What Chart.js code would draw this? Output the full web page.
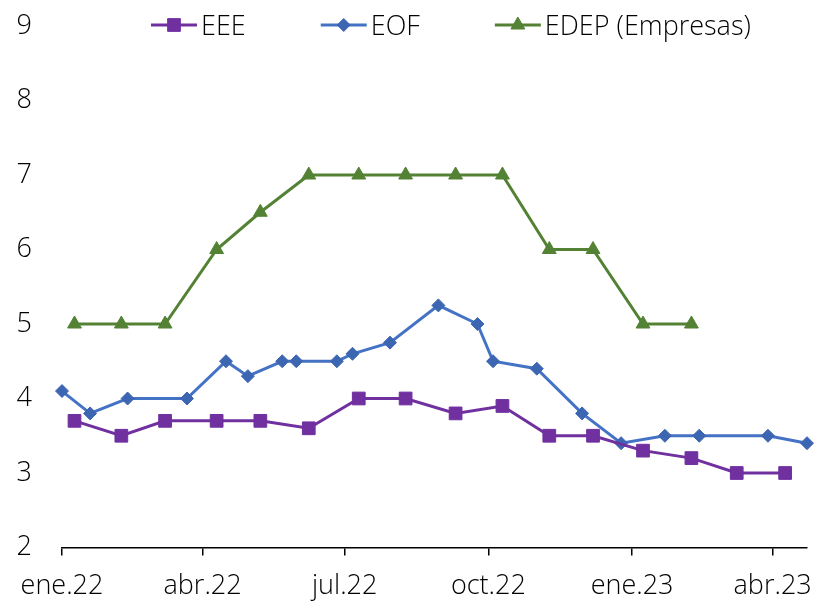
<!DOCTYPE html>
<html><head><meta charset="utf-8">
<script src="https://cdn.jsdelivr.net/npm/chart.js@4/dist/chart.umd.min.js"></script>
<style>html,body{margin:0;padding:0;background:#fff}</style>
</head><body>
<canvas id="c" width="817" height="601"></canvas>
<script>
// x positions are days since 1 Jan 2022
const tickDays   = [0, 90, 181, 273, 365, 455];
const tickLabels = ['ene.22', 'abr.22', 'jul.22', 'oct.22', 'ene.23', 'abr.23'];

const eeeDays   = [8, 38, 66, 99, 127, 158, 190, 220, 252, 282, 312, 340, 372, 403, 432, 463];
const eeeValues = [3.7, 3.5, 3.7, 3.7, 3.7, 3.6, 4.0, 4.0, 3.8, 3.9, 3.5, 3.5, 3.3, 3.2, 3.0, 3.0];

const eofDays   = [0, 18, 42, 80, 105, 119, 141, 150, 176, 186, 210, 241, 266, 276, 304, 333, 358, 386, 408, 452, 477];
const eofValues = [4.1, 3.8, 4.0, 4.0, 4.5, 4.3, 4.5, 4.5, 4.5, 4.6, 4.75, 5.25, 5.0, 4.5, 4.4, 3.8, 3.4, 3.5, 3.5, 3.5, 3.4];

const edepDays   = [8, 38, 66, 99, 127, 158, 190, 220, 252, 282, 312, 340, 372, 403];
const edepValues = [5, 5, 5, 6, 6.5, 7, 7, 7, 7, 7, 6, 6, 5, 5];

const seriesNames = ['EEE', 'EOF', 'EDEP (Empresas)'];

const FONT_FAMILY = '"Open Sans", "DejaVu Sans", sans-serif';
const FONT_SIZE = 27;
const FONT_WEIGHT = 300;

function pts(days, vals) { return days.map((d, i) => ({x: d, y: vals[i]})); }

function drawMarker(ctx, style, x, y, r, fill) {
  ctx.save();
  ctx.fillStyle = fill; ctx.strokeStyle = fill; ctx.lineWidth = 1;
  ctx.beginPath();
  if (style === 'rect') {
    const s = r * Math.SQRT1_2;
    ctx.rect(x - s, y - s, 2 * s, 2 * s);
  } else if (style === 'rectRot') {
    ctx.moveTo(x, y - r); ctx.lineTo(x + r, y); ctx.lineTo(x, y + r); ctx.lineTo(x - r, y);
  } else {
    const a = 2 * Math.PI / 3;
    ctx.moveTo(x, y - r);
    ctx.lineTo(x + Math.sin(a) * r, y - Math.cos(a) * r);
    ctx.lineTo(x + Math.sin(2 * a) * r, y - Math.cos(2 * a) * r);
  }
  ctx.closePath(); ctx.fill(); ctx.stroke();
  ctx.restore();
}

const legendPlugin = {
  id: 'xlLegend',
  afterDraw(chart) {
    const ctx = chart.ctx;
    ctx.save();
    ctx.font = `${FONT_WEIGHT} ${FONT_SIZE}px ${FONT_FAMILY}`;
    ctx.textBaseline = 'middle';
    let x = 151; const y = 25;
    chart.data.datasets.forEach(ds => {
      ctx.strokeStyle = ds.borderColor; ctx.lineWidth = ds.borderWidth;
      ctx.beginPath(); ctx.moveTo(x, y); ctx.lineTo(x + 46, y); ctx.stroke();
      drawMarker(ctx, ds.pointStyle, x + 23, y, ds.pointRadius, ds.pointBackgroundColor);
      ctx.fillStyle = '#000';
      ctx.fillText(ds.label, x + 50, y + 2);
      x += 50 + ctx.measureText(ds.label).width + 75;
    });
    ctx.restore();
  }
};

const tickFont = {family: FONT_FAMILY, size: FONT_SIZE, weight: FONT_WEIGHT};

new Chart(document.getElementById('c'), {
  type: 'line',
  data: {
    datasets: [
      {label: seriesNames[0], data: pts(eeeDays, eeeValues), borderColor: '#7030A0', backgroundColor: '#7030A0',
       pointBackgroundColor: '#7030A0', pointBorderColor: '#7030A0', pointStyle: 'rect', pointRadius: 9, pointBorderWidth: 1},
      {label: seriesNames[1], data: pts(eofDays, eofValues), borderColor: '#4472C4', backgroundColor: '#4472C4',
       pointBackgroundColor: '#3D66B2', pointBorderColor: '#3D66B2', pointStyle: 'rectRot', pointRadius: 6.5, pointBorderWidth: 1},
      {label: seriesNames[2], data: pts(edepDays, edepValues), borderColor: '#548235', backgroundColor: '#548235',
       pointBackgroundColor: '#548235', pointBorderColor: '#548235', pointStyle: 'triangle', pointRadius: 8, pointBorderWidth: 1}
    ].map(d => Object.assign(d, {borderWidth: 3, tension: 0, fill: false, clip: false, pointHoverRadius: d.pointRadius}))
  },
  options: {
    responsive: false,
    animation: false,
    devicePixelRatio: 1,
    layout: {padding: {left: 0, right: 10, top: 26, bottom: 0}},
    plugins: {legend: {display: false}, tooltip: {enabled: false}},
    scales: {
      x: {
        type: 'linear', min: 0, max: 477,
        afterBuildTicks(scale) { scale.ticks = tickDays.map(v => ({value: v})); },
        afterFit(scale) { scale.height = 53.5; scale.paddingLeft = 0; scale.paddingRight = 0; },
        ticks: {autoSkip: false, maxRotation: 0, color: '#000', font: tickFont, padding: 15,
                callback: v => { const i = tickDays.indexOf(v); return i >= 0 ? tickLabels[i] : ''; }},
        grid: {display: true, drawOnChartArea: false, drawTicks: true, tickLength: 8, color: '#000', lineWidth: 1.5},
        border: {display: true, color: '#000', width: 1.5}
      },
      y: {
        min: 2, max: 9,
        afterFit(scale) { scale.width = 62; scale.paddingTop = 0; scale.paddingBottom = 0; },
        ticks: {stepSize: 1, color: '#000', font: tickFont, padding: 30},
        grid: {display: false, drawTicks: false},
        border: {display: false}
      }
    }
  },
  plugins: [legendPlugin]
});
</script>
</body></html>
